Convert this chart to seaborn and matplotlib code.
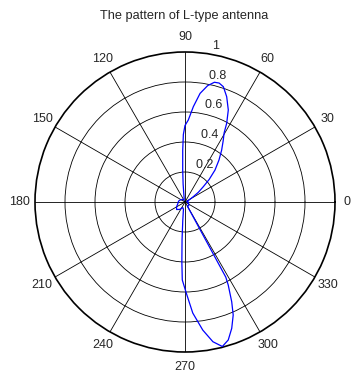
import numpy as np
import pandas as pd
import matplotlib
matplotlib.use("Agg")
import matplotlib.pyplot as plt
import seaborn as sns

# Radiation pattern of the L-type antenna (angle in degrees, normalised field)
theta_deg = [0, 10, 20, 26, 32.6, 36, 39.9, 43, 46.8, 51, 54.8, 58, 60.5, 62.1,
             64.8, 68.4, 71.6, 74, 76.2, 79, 82.1, 85, 87.7, 90, 91.4, 92.5,
             94.1, 96, 98, 105, 120, 135, 150, 165, 180, 195, 210, 222, 235,
             248, 258, 263, 265.5, 267, 268, 270.8, 274, 277.9, 281.3, 284.5,
             287.4, 290.3, 293.1, 295.1, 297.5, 298.5, 300, 315, 330, 345, 360]
radius = [0.02, 0.015, 0.012, 0.03, 0.066, 0.11, 0.159, 0.22, 0.292, 0.36,
          0.424, 0.48, 0.53, 0.594, 0.678, 0.755, 0.81, 0.825, 0.822, 0.79,
          0.731, 0.638, 0.547, 0.51, 0.45, 0.347, 0.214, 0.12, 0.06, 0.02,
          0.015, 0.025, 0.03, 0.04, 0.045, 0.05, 0.065, 0.075, 0.06, 0.04,
          0.05, 0.12, 0.25, 0.4, 0.52, 0.607, 0.742, 0.862, 0.95, 0.995,
          0.964, 0.898, 0.819, 0.734, 0.624, 0.57, 0.03, 0.035, 0.03, 0.02,
          0.02]

angle_ticks = list(range(0, 360, 30))
radius_ticks = [0.2, 0.4, 0.6, 0.8, 1.0]
radius_labels = ["0.2", "0.4", "0.6", "0.8", "1"]
title_text = "The pattern of L-type antenna"

sns.set_style("white")
plt.rcParams["font.family"] = ["Liberation Sans", "DejaVu Sans"]
plt.rcParams["font.size"] = 9

fig = plt.figure(figsize=(3.51, 3.76), dpi=100)
fig.patch.set_facecolor("white")
ax = fig.add_axes([35 / 351, 24 / 376, 300 / 351, 300 / 376], projection="polar")

df = pd.DataFrame({"theta": np.deg2rad(theta_deg), "r": radius})
sns.lineplot(data=df, x="theta", y="r", sort=False, estimator=None,
             ax=ax, color="blue", lw=0.9, zorder=5)

ax.set_xlabel("")
ax.set_ylabel("")
ax.set_ylim(0, 1)
ax.set_rticks(radius_ticks[:-1])
ax.set_yticklabels([])
ax.set_thetagrids(angle_ticks, labels=[""] * len(angle_ticks))
ax.grid(True, color="black", lw=0.6)
ax.spines["polar"].set_linewidth(1.2)
ax.spines["polar"].set_color("black")

# angle labels around the outer ring
for a in angle_ticks:
    r_lab = 1.08 if a == 0 else 1.1
    ax.text(np.deg2rad(a), r_lab, str(a), ha="center", va="center",
            fontsize=9, clip_on=False)

# radius labels along the 82 degree direction
for v, lab in zip(radius_ticks, radius_labels):
    ax.text(np.deg2rad(82), v + 0.01, "  " + lab, ha="left", va="bottom",
            fontsize=9, clip_on=False, zorder=6)

fig.text(184 / 351, 1 - 16 / 376, title_text, ha="center", va="center",
         fontsize=9.2)

fig.savefig("out.png", dpi=100, facecolor="white")
